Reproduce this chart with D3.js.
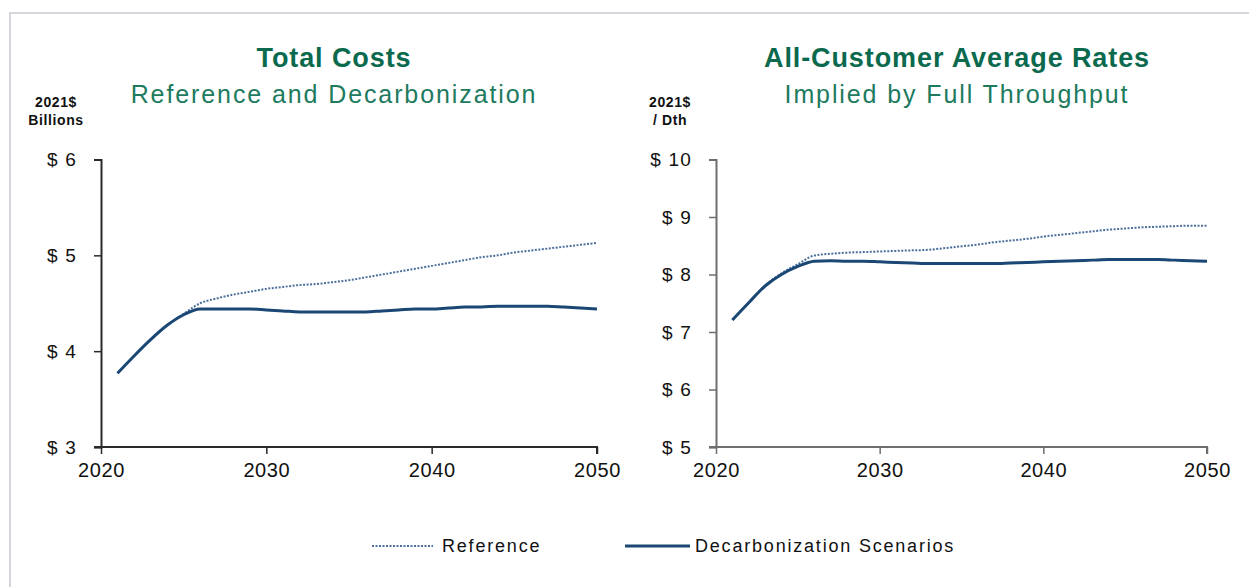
<!doctype html>
<html>
<head>
<meta charset="utf-8">
<title>Total Costs and Average Rates</title>
<script src="https://cdn.jsdelivr.net/npm/d3@7"></script>
<style>
  body { margin: 0; background: #fff; }
  text { font-family: "Liberation Sans", Arial, sans-serif; fill: #111; }
  .title { font-weight: bold; fill: #0b6a4e; }
  .subtitle { fill: #207a5e; }
</style>
</head>
<body>
<div id="chart"></div>
<script>
// years on the x axis
var years = d3.range(2021, 2051);
var yearTicks = [2020, 2030, 2040, 2050];

// total costs, 2021$ billions
var costReference = [3.77, 3.95, 4.12, 4.27, 4.39, 4.50, 4.55, 4.59, 4.62, 4.65,
                     4.67, 4.69, 4.70, 4.72, 4.74, 4.77, 4.80, 4.83, 4.86, 4.89,
                     4.92, 4.95, 4.98, 5.00, 5.03, 5.05, 5.07, 5.09, 5.11, 5.13];
var costDecarb = [3.77, 3.95, 4.12, 4.27, 4.38, 4.44, 4.44, 4.44, 4.44, 4.43,
                  4.42, 4.41, 4.41, 4.41, 4.41, 4.41, 4.42, 4.43, 4.44, 4.44,
                  4.45, 4.46, 4.46, 4.47, 4.47, 4.47, 4.47, 4.46, 4.45, 4.44];
var costTicks = [3, 4, 5, 6];

// all-customer average rates, 2021$ / Dth
var rateReference = [7.21, 7.51, 7.81, 8.02, 8.18, 8.33, 8.36, 8.38, 8.39, 8.40,
                     8.41, 8.42, 8.43, 8.46, 8.49, 8.52, 8.56, 8.59, 8.62, 8.66,
                     8.69, 8.72, 8.75, 8.78, 8.80, 8.82, 8.83, 8.84, 8.85, 8.85];
var rateDecarb = [7.21, 7.51, 7.80, 8.00, 8.14, 8.23, 8.24, 8.23, 8.23, 8.22,
                  8.21, 8.20, 8.19, 8.19, 8.19, 8.19, 8.19, 8.20, 8.21, 8.22,
                  8.23, 8.24, 8.25, 8.26, 8.26, 8.26, 8.26, 8.25, 8.24, 8.23];
var rateTicks = [5, 6, 7, 8, 9, 10];

var seriesNames = ["Reference", "Decarbonization Scenarios"];

var W = 1249, H = 587;
var refColor = "#4a6f9c", decarbColor = "#1b4775";

var svg = d3.select("#chart").append("svg")
    .attr("width", W)
    .attr("height", H);

// light frame round the slide
svg.append("rect")
    .attr("x", 10).attr("y", 13)
    .attr("width", 1300).attr("height", 650)
    .attr("fill", "none")
    .attr("stroke", "#d3d7db")
    .attr("stroke-width", 2);

function panel(opt) {
  var x = d3.scaleLinear().domain([2020, 2050]).range([opt.left, opt.right]);
  var y = d3.scaleLinear().domain(d3.extent(opt.ticks)).range([447, 159.5]);

  var g = svg.append("g");

  // titles
  g.append("text")
      .attr("class", "title")
      .attr("x", opt.titleX).attr("y", 67)
      .attr("text-anchor", "middle")
      .style("font-size", "27px")
      .style("letter-spacing", "0.9px")
      .text(opt.title);
  g.append("text")
      .attr("class", "subtitle")
      .attr("x", opt.titleX).attr("y", 103)
      .attr("text-anchor", "middle")
      .style("font-size", "25px")
      .style("letter-spacing", "1.9px")
      .text(opt.subtitle);

  // units
  opt.units.forEach(function(u, i) {
    g.append("text")
        .attr("x", opt.unitX).attr("y", 107 + i * 18)
        .attr("text-anchor", "middle")
        .style("font-size", "14px")
        .style("font-weight", "bold")
        .style("letter-spacing", "0.6px")
        .text(u);
  });

  // axes
  var yAxis = g.append("g")
      .attr("transform", "translate(" + opt.left + ",0)")
      .call(d3.axisLeft(y).tickValues(opt.ticks).tickSize(7).tickPadding(17)
        .tickFormat(function(d) { return "$ " + d; }));
  var xAxis = g.append("g")
      .attr("transform", "translate(0,447)")
      .call(d3.axisBottom(x).tickValues(yearTicks).tickSize(7).tickPadding(9)
        .tickFormat(d3.format("d")));

  [yAxis, xAxis].forEach(function(a) {
    a.select(".domain").attr("stroke", opt.axisColor).attr("stroke-width", 2);
    a.selectAll(".tick line").attr("stroke", opt.axisColor).attr("stroke-width", 1.5);
    a.selectAll("text").attr("fill", "#111").attr("font-family", null);
  });
  yAxis.selectAll("text").style("font-size", "19px").style("letter-spacing", "1.2px");
  xAxis.selectAll("text").style("font-size", "20px").style("letter-spacing", "0.6px");
  // x axis runs out to the last y tick on the left
  xAxis.select(".domain").attr("d", "M" + (opt.left - 7) + ",0H" + opt.right + "V7");

  var line = d3.line()
      .x(function(d, i) { return x(years[i]); })
      .y(function(d) { return y(d); })
      .curve(d3.curveMonotoneX);

  g.append("path")
      .datum(opt.reference)
      .attr("fill", "none")
      .attr("stroke", refColor)
      .attr("stroke-width", 2)
      .attr("stroke-dasharray", "2,1.5")
      .attr("d", line);

  g.append("path")
      .datum(opt.decarb)
      .attr("fill", "none")
      .attr("stroke", decarbColor)
      .attr("stroke-width", 3)
      .attr("d", line);
}

panel({
  left: 101, right: 597, titleX: 334, unitX: 56,
  ticks: costTicks, reference: costReference, decarb: costDecarb,
  title: "Total Costs", subtitle: "Reference and Decarbonization",
  units: ["2021$", "Billions"], axisColor: "#2a2a2a"
});

panel({
  left: 716, right: 1207, titleX: 957, unitX: 670,
  ticks: rateTicks, reference: rateReference, decarb: rateDecarb,
  title: "All-Customer Average Rates", subtitle: "Implied by Full Throughput",
  units: ["2021$", "/ Dth"], axisColor: "#6e6e6e"
});

// legend
var legend = svg.append("g").attr("transform", "translate(0,546)");
var legendItems = [
  {x1: 372, x2: 433, tx: 442, color: refColor, width: 2, dash: "2,1.5"},
  {x1: 625, x2: 690, tx: 695, color: decarbColor, width: 3, dash: null}
];
legendItems.forEach(function(d, i) {
  legend.append("line")
      .attr("x1", d.x1).attr("x2", d.x2)
      .attr("stroke", d.color)
      .attr("stroke-width", d.width)
      .attr("stroke-dasharray", d.dash);
  legend.append("text")
      .attr("x", d.tx).attr("dy", "0.35em")
      .style("font-size", "18px")
      .style("letter-spacing", "1.8px")
      .text(seriesNames[i]);
});
</script>
</body>
</html>
